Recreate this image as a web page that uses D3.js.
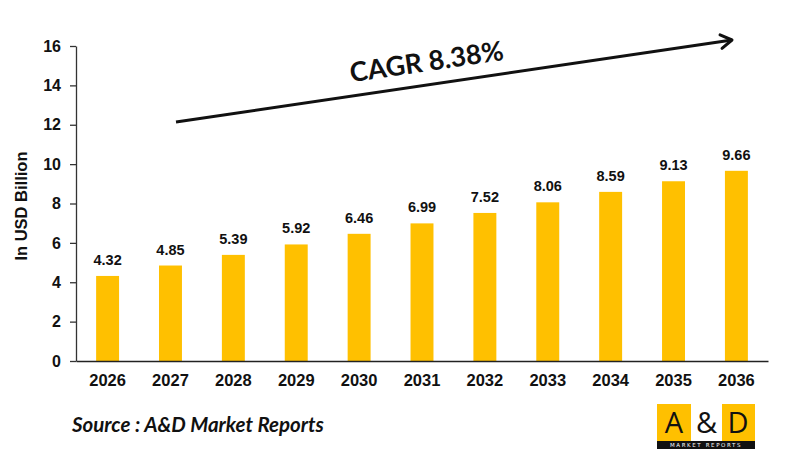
<!DOCTYPE html>
<html>
<head>
<meta charset="utf-8">
<script src="https://cdn.jsdelivr.net/npm/d3@7/dist/d3.min.js"></script>
<style>
  html, body { margin: 0; padding: 0; background: #fff; }
  svg { display: block; }
</style>
</head>
<body>
<svg id="chart" width="800" height="468"></svg>
<script>
// chart data
const years = ['2026', '2027', '2028', '2029', '2030', '2031', '2032', '2033', '2034', '2035', '2036'];
const values = [4.32, 4.85, 5.39, 5.92, 6.46, 6.99, 7.52, 8.06, 8.59, 9.13, 9.66];
const yTicks = [0, 2, 4, 6, 8, 10, 12, 14, 16];
const cagrLabel = 'CAGR 8.38%';
const sourceLabel = 'Source : A&D Market Reports';
const yTitle = 'In USD Billion';

const svg = d3.select('#chart');
const plot = { left: 76, right: 768, top: 46, bottom: 361 };
const barColor = '#FFC000';
const axisFont = 'Arial, "Liberation Sans", sans-serif';

const x = d3.scaleBand()
    .domain(years)
    .range([plot.left, plot.right])
    .paddingInner(0.635)
    .paddingOuter(0.32);

const y = d3.scaleLinear()
    .domain([0, 16])
    .range([plot.bottom, plot.top]);

// bars
svg.append('g')
    .selectAll('rect')
    .data(values)
    .join('rect')
    .attr('x', (d, i) => x(years[i]))
    .attr('y', d => y(d))
    .attr('width', x.bandwidth())
    .attr('height', d => y(0) - y(d))
    .attr('fill', barColor);

// value labels
svg.append('g')
    .selectAll('text')
    .data(values)
    .join('text')
    .attr('x', (d, i) => x(years[i]) + x.bandwidth() / 2)
    .attr('y', d => y(d) - 11)
    .attr('text-anchor', 'middle')
    .style('font-family', axisFont)
    .style('font-weight', 'bold')
    .style('font-size', '14.5px')
    .attr('fill', '#111')
    .text(d => d.toFixed(2));

// y axis
const yAxis = svg.append('g')
    .attr('transform', `translate(${plot.left},0)`)
    .call(d3.axisLeft(y).tickValues(yTicks).tickSize(6).tickPadding(9).tickSizeOuter(0));
yAxis.select('.domain').attr('stroke', '#333').attr('stroke-width', 1.3);
yAxis.selectAll('.tick line').attr('stroke', '#333').attr('stroke-width', 1.3);
yAxis.selectAll('.tick text')
    .style('font-family', axisFont)
    .style('font-weight', 'bold')
    .style('font-size', '16px')
    .attr('fill', '#111');

// x axis
const xAxis = svg.append('g')
    .attr('transform', `translate(0,${plot.bottom})`)
    .call(d3.axisBottom(x).tickSize(0).tickPadding(13).tickSizeOuter(0));
xAxis.select('.domain').attr('stroke', '#222').attr('stroke-width', 1.5);
xAxis.selectAll('.tick text')
    .style('font-family', axisFont)
    .style('font-weight', 'bold')
    .style('font-size', '16.5px')
    .attr('fill', '#111');

// y title
svg.append('text')
    .attr('transform', 'translate(27,206) rotate(-90)')
    .attr('text-anchor', 'middle')
    .style('font-family', axisFont)
    .style('font-weight', 'bold')
    .style('font-size', '16.5px')
    .attr('fill', '#111')
    .text(yTitle);

// CAGR arrow
const arrowStart = [176, 122];
const arrowEnd = [732, 40];
const angle = Math.atan2(arrowEnd[1] - arrowStart[1], arrowEnd[0] - arrowStart[0]);
svg.append('line')
    .attr('x1', arrowStart[0]).attr('y1', arrowStart[1])
    .attr('x2', arrowEnd[0]).attr('y2', arrowEnd[1])
    .attr('stroke', '#111').attr('stroke-width', 3);
const head = 13;
const headPts = [-0.5, 0.5].map(s => [
    arrowEnd[0] - head * Math.cos(angle + s * 1.1),
    arrowEnd[1] - head * Math.sin(angle + s * 1.1)
]);
svg.append('path')
    .attr('d', `M${headPts[0][0]},${headPts[0][1]}L${arrowEnd[0]},${arrowEnd[1]}L${headPts[1][0]},${headPts[1][1]}`)
    .attr('fill', 'none')
    .attr('stroke', '#111')
    .attr('stroke-width', 3)
    .attr('stroke-linecap', 'round')
    .attr('stroke-linejoin', 'round');

svg.append('text')
    .attr('transform', `translate(428,71) rotate(${angle * 180 / Math.PI})`)
    .attr('text-anchor', 'middle')
    .style('font-family', 'Lato, "Open Sans", sans-serif')
    .style('font-weight', 'bold')
    .style('font-size', '27px')
    .attr('fill', '#111')
    .text(cagrLabel);

// source note
svg.append('text')
    .attr('x', 72)
    .attr('y', 432)
    .style('font-family', 'Lato, "Open Sans", sans-serif')
    .style('font-weight', 'bold')
    .style('font-style', 'italic')
    .style('font-size', '20.5px')
    .attr('fill', '#111')
    .text(sourceLabel);

// logo
const logo = svg.append('g').attr('transform', 'translate(657,404)');
logo.append('rect').attr('width', 98).attr('height', 37).attr('fill', barColor);
logo.append('rect').attr('x', 34).attr('width', 31).attr('height', 37).attr('fill', '#fff');
logo.append('rect').attr('y', 37).attr('width', 98).attr('height', 8).attr('fill', '#111');
[['A', 17], ['&', 49.5], ['D', 81]].forEach(([t, cx]) => {
    logo.append('text')
        .attr('x', cx).attr('y', 29)
        .attr('text-anchor', 'middle')
        .style('font-family', '"Open Sans", sans-serif')
        .style('font-size', '29px')
        .attr('fill', '#111')
        .text(t);
});
logo.append('text')
    .attr('x', 49).attr('y', 43.4)
    .attr('text-anchor', 'middle')
    .style('font-family', '"DejaVu Sans", sans-serif')
    .style('font-size', '5.5px')
    .style('letter-spacing', '1.6px')
    .attr('fill', '#fff')
    .text('MARKET REPORTS');
</script>
</body>
</html>
